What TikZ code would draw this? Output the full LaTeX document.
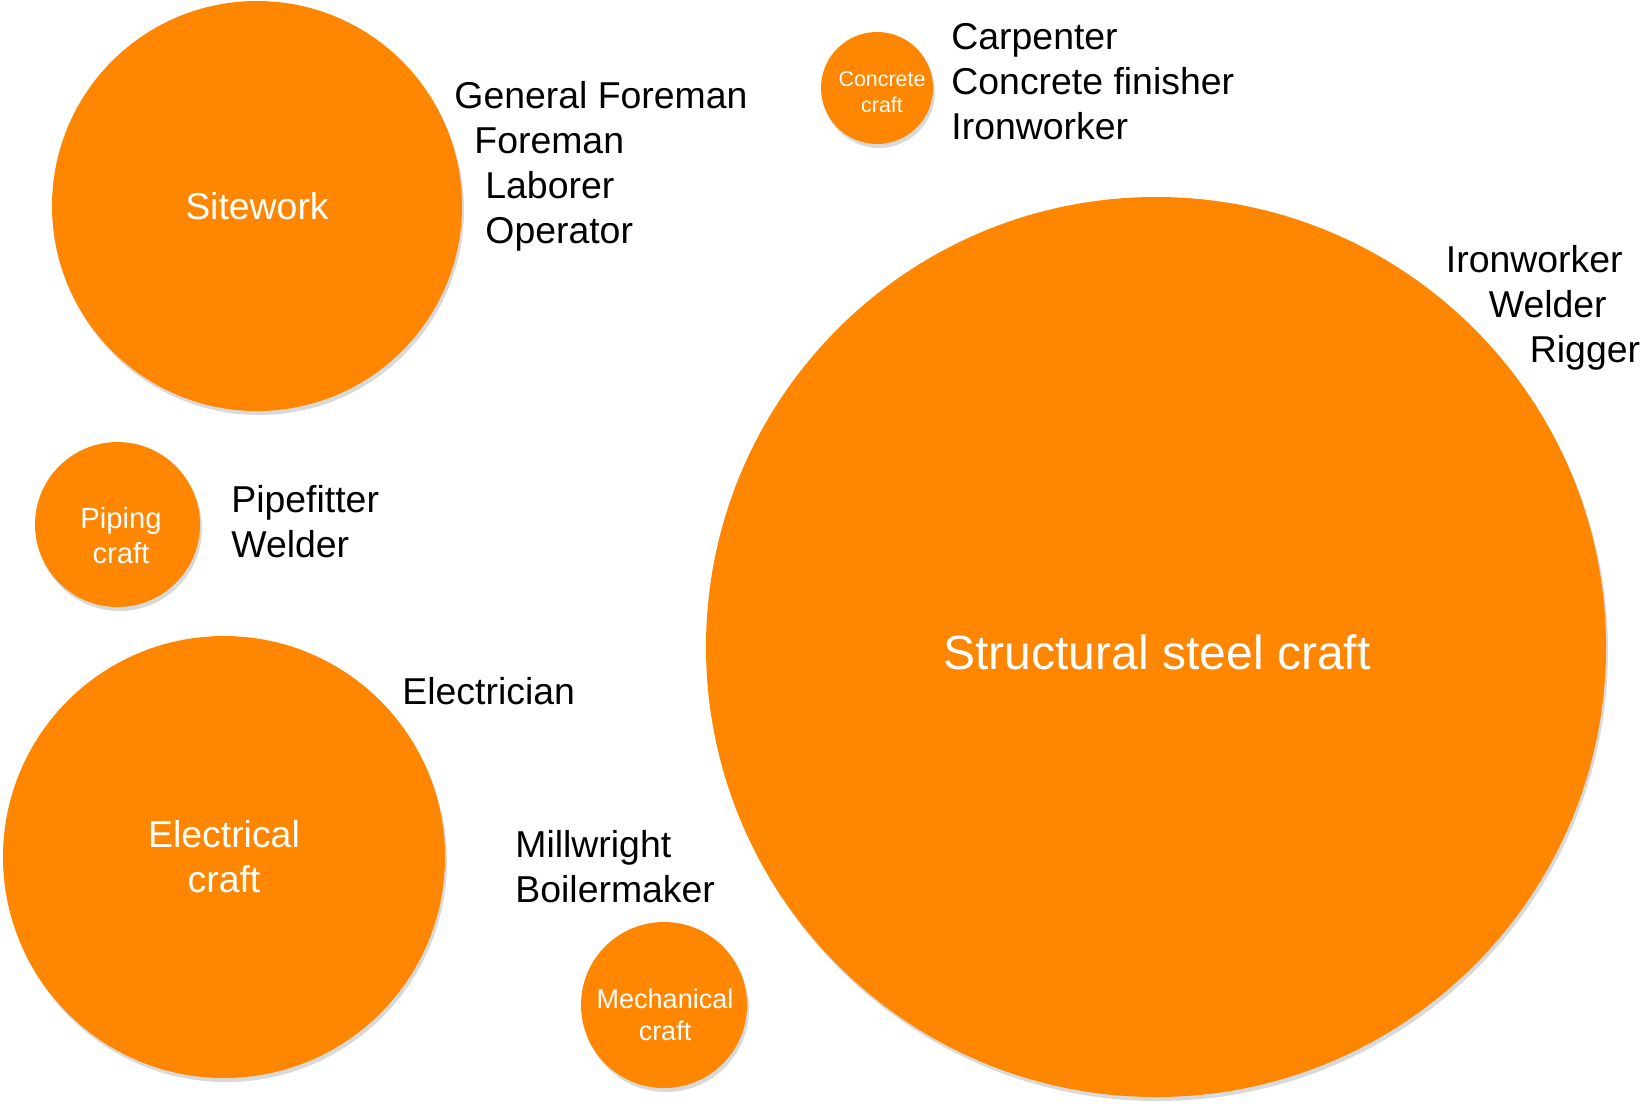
\documentclass[tikz,border=0pt]{standalone}
\usepackage{fontspec}
\setmainfont{Liberation Sans}
\usepackage{tikz}
\usetikzlibrary{shapes,shadows,calc}
\definecolor{craftorange}{RGB}{255,134,0}
\newcommand{\fsz}[1]{\fontsize{#1}{\dimexpr #1*6/5\relax}\selectfont}
\tikzset{craft/.style={circle, fill=craftorange, inner sep=0pt, drop shadow={shadow xshift=1pt, shadow yshift=-2pt, opacity=.3}}}
\tikzstyle{intext}=[text=white, align=center, inner sep=0pt]
\tikzstyle{trade}=[text=black, align=left, inner sep=0pt, anchor=base west, font=\fsz{18.7pt}]

\begin{document}
\begin{tikzpicture}[x=0.5pt, y=-0.5pt]
\useasboundingbox (0,0) rectangle (1641,1105);
\node[craft, minimum size=205pt] (site) at (257,206) {};
\node[craft, minimum size=56pt] (concrete) at (877,88) {};
\node[craft, minimum size=450pt] (steel) at (1156,647) {};
\node[craft, minimum size=82.5pt] (piping) at (117.5,524.5) {};
\node[craft, minimum size=221pt] (electrical) at (224,857) {};
\node[craft, minimum size=83pt] (mechanical) at (664,1005) {};

\node[intext, font=\fsz{18.7pt}] (sitetxt) at (site) {Sitework};
\node[intext, font=\fsz{10.7pt}] (concretetxt) at ($(concrete)+(5,4)$) {Concrete\\craft};
\node[intext, font=\fsz{24pt}] (steeltxt) at ($(steel)+(1,5)$) {Structural steel craft};
\node[intext, font=\fsz{14.6pt}] (pipingtxt) at ($(piping)+(3.5,11)$) {Piping\\craft};
\node[intext, font=\fsz{18.7pt}] (electricaltxt) at (electrical) {Electrical\\craft};
\node[intext, font=\fsz{13.5pt}] (mechanicaltxt) at ($(mechanical)+(1,10)$) {Mechanical\\craft};

\node[trade] (sitelist) at (454,243) {General Foreman\\\hspace*{10pt}Foreman\\\hspace*{15.5pt}Laborer\\\hspace*{15.5pt}Operator};
\node[trade] (concretelist) at (951,139) {Carpenter\\Concrete finisher\\Ironworker};
\node[trade] (steellist) at (1445.5,362) {Ironworker\\\hspace*{21.5pt}Welder\\\hspace*{42pt}Rigger};
\node[trade] (pipinglist) at (231,557) {Pipefitter\\Welder};
\node[trade] (electricallist) at (402,704) {Electrician};
\node[trade] (mechanicallist) at (515,902) {Millwright\\Boilermaker};
\end{tikzpicture}
\end{document}
